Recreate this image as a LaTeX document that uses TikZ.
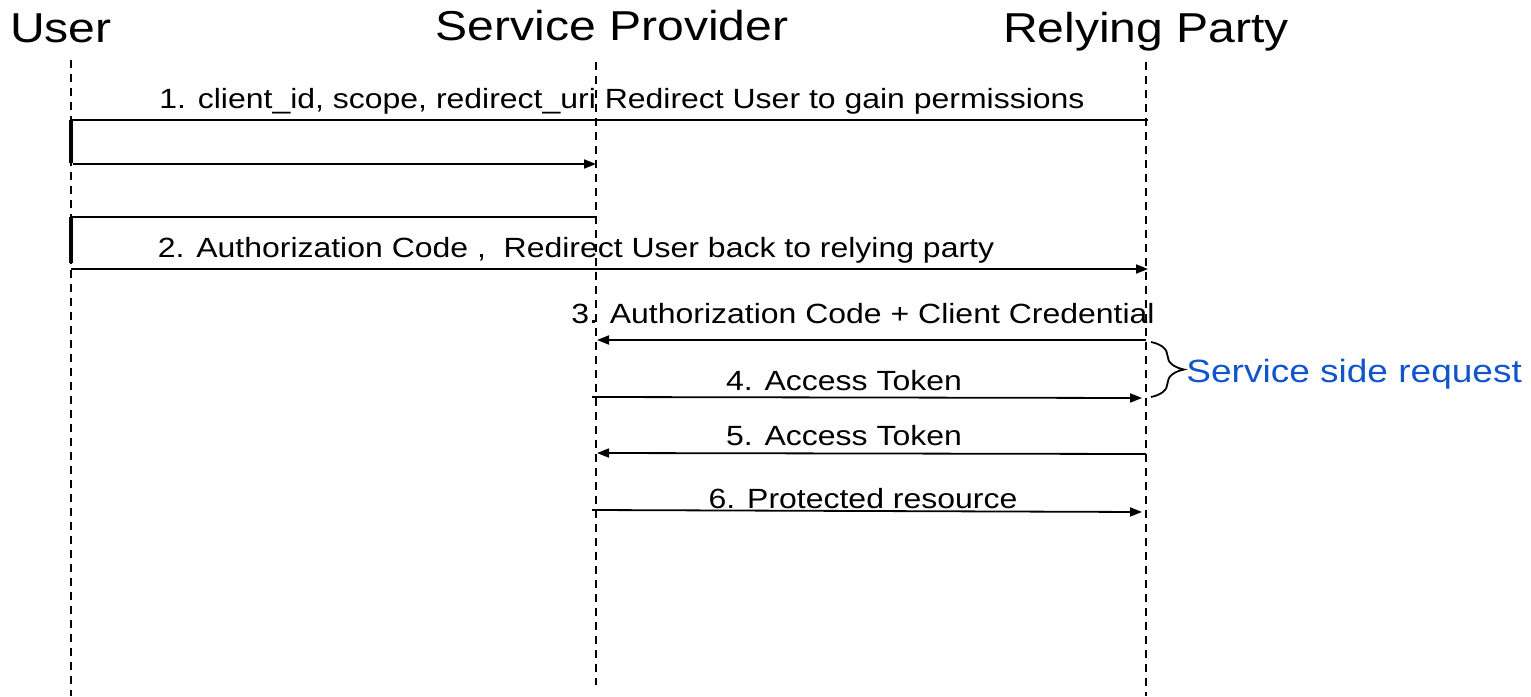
\documentclass[tikz,border=0pt]{standalone}
\usepackage{fontspec}
\setmainfont{Liberation Sans}[FakeStretch=1.15]
\usetikzlibrary{arrows.meta,decorations.pathreplacing}
\definecolor{noteblue}{HTML}{1155CC}
\tikzset{
  actor/.style={anchor=base, inner sep=0pt, font=\fontsize{20.9}{22}\selectfont},
  msglabel/.style={anchor=base, inner sep=0pt, font=\fontsize{13.9}{15}\selectfont},
  lifeline/.style={line width=0.8pt, dash pattern=on 4pt off 3pt},
  activebar/.style={line width=1.6pt},
  plainmsg/.style={line width=0.9pt},
  msg/.style={line width=0.9pt, -{Triangle[length=6pt,width=4.5pt]}},
  notebrace/.style={line width=0.9pt, decorate, decoration={brace, amplitude=16.5pt}},
  notetext/.style={anchor=base west, inner sep=0pt, text=noteblue, font=\fontsize{16.1}{18}\selectfont}
}
\begin{document}
\begin{tikzpicture}[x=0.5pt, y=-0.5pt]
\useasboundingbox (0,0) rectangle (1531,696);

% participants
\node[actor] (user) at (61,42) {User};
\node[actor] (sp) at (612,40) {Service Provider};
\node[actor] (rp) at (1146,42) {Relying Party};

% lifelines
\coordinate (uTop) at (71,60);   \coordinate (uBot) at (71,696);
\coordinate (sTop) at (596,62);  \coordinate (sBot) at (596,685);
\coordinate (rTop) at (1146,62); \coordinate (rBot) at (1146,696);
\draw[lifeline] (uTop) -- (uBot);
\draw[lifeline] (sTop) -- (sBot);
\draw[lifeline] (rTop) -- (rBot);

% step 1: redirect to the service provider
\coordinate (r1) at (1148,120); \coordinate (u1) at (71,120);
\coordinate (u1e) at (71,163);
\coordinate (u1b) at (73,164);  \coordinate (s1b) at (596,164);
\draw[plainmsg] (r1) -- (u1);
\draw[activebar] (u1) -- (u1e);
\draw[msg] (u1b) -- (s1b);
\node[msglabel] (l1) at (622,108) {1. client\_id, scope, redirect\_uri Redirect User to gain permissions};

% step 2: redirect back with the code
\coordinate (s2) at (596,217); \coordinate (u2) at (71,217);
\coordinate (u2e) at (71,263);
\coordinate (u2b) at (71,269); \coordinate (r2b) at (1148,269);
\draw[plainmsg] (s2) -- (u2);
\draw[activebar] (u2) -- (u2e);
\draw[msg] (u2b) -- (r2b);
\node[msglabel] (l2) at (576,257) {2. Authorization Code ,~ Redirect User back to relying party};

% steps 3-6: back-channel exchange
\coordinate (r3) at (1146,340); \coordinate (s3) at (597,340);
\coordinate (s4) at (592,397);  \coordinate (r4) at (1142,398);
\coordinate (r5) at (1146,454); \coordinate (s5) at (597,453);
\coordinate (s6) at (592,510);  \coordinate (r6) at (1142,512);
\draw[msg] (r3) -- (s3);
\draw[msg] (s4) -- (r4);
\draw[msg] (r5) -- (s5);
\draw[msg] (s6) -- (r6);
\node[msglabel] (l3) at (863,323) {3. Authorization Code + Client Credential};
\node[msglabel] (l4) at (844,390) {4. Access Token};
\node[msglabel] (l5) at (844,445) {5. Access Token};
\node[msglabel] (l6) at (863,508) {6. Protected resource};

% server-side note
\coordinate (bTop) at (1151,342); \coordinate (bBot) at (1151,397);
\draw[notebrace] (bTop) -- (bBot);
\node[notetext] (note) at (1186,382) {Service side request};
\end{tikzpicture}
\end{document}
